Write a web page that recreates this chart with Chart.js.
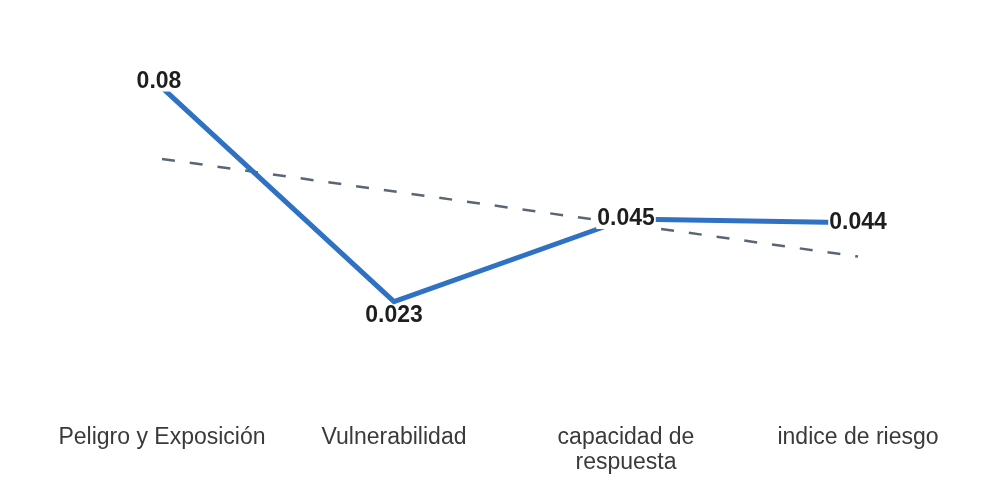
<!DOCTYPE html>
<html>
<head>
<meta charset="utf-8">
<script src="https://cdn.jsdelivr.net/npm/chart.js@4/dist/chart.umd.min.js"></script>
<style>
  html, body { margin: 0; padding: 0; background: #fff; }
  #wrap { width: 998px; height: 502px; position: relative; }
</style>
</head>
<body>
<div id="wrap"><canvas id="chart"></canvas></div>
<script>
// values
const categories = [
  'Peligro y Exposición',
  'Vulnerabilidad',
  ['capacidad de', 'respuesta'],
  'indice de riesgo'
];
const indexValues = [0.08, 0.023, 0.045, 0.044];
const valueLabels = ['0.08', '0.023', '0.045', '0.044'];
// linear trend line, only its two ends are drawn
const trendValues = [0.061, null, null, 0.035];

// point labels on a white box; the highest goes a bit up, the lowest a bit down
const pointLabels = {
  id: 'pointLabels',
  afterDatasetsDraw(chart) {
    const { ctx } = chart;
    const meta = chart.getDatasetMeta(0);
    const hi = Math.max(...indexValues);
    const lo = Math.min(...indexValues);
    ctx.save();
    ctx.font = 'bold 23px "Liberation Sans", Arial, sans-serif';
    ctx.textAlign = 'center';
    ctx.textBaseline = 'middle';
    meta.data.forEach((pt, i) => {
      const v = indexValues[i];
      let dx = 0, dy = 0;
      if (v === hi) { dx = -3; dy = -6; }
      else if (v === lo) { dy = 14; }
      const x = pt.x + dx, y = pt.y + dy;
      const w = ctx.measureText(valueLabels[i]).width;
      ctx.fillStyle = '#ffffff';
      ctx.fillRect(x - w / 2 - 1, y - 10, w + 2, 20);
      ctx.fillStyle = '#1e1e1e';
      ctx.fillText(valueLabels[i], x, y);
    });
    ctx.restore();
  }
};

const ctx = document.getElementById('chart').getContext('2d');
new Chart(ctx, {
  type: 'line',
  data: {
    labels: categories,
    datasets: [{
      label: 'Índice',
      data: indexValues,
      borderColor: '#2f72c4',
      borderWidth: 5,
      borderJoinStyle: 'round',
      pointRadius: 0,
      tension: 0,
      fill: false,
      order: 1
    }, {
      label: 'Tendencia',
      data: trendValues,
      spanGaps: true,
      borderColor: '#5a6674',
      borderWidth: 2.5,
      borderDash: [13, 15],
      pointRadius: 0,
      fill: false,
      order: 2
    }]
  },
  options: {
    responsive: true,
    maintainAspectRatio: false,
    animation: false,
    layout: { padding: { left: 46, right: 24, top: 50, bottom: 0 } },
    scales: {
      x: {
        offset: true,
        grid: { display: false, drawTicks: false },
        border: { display: false },
        afterFit: (scale) => { scale.height = 114; },
        ticks: {
          color: '#3a3a3a',
          padding: 37,
          maxRotation: 0,
          autoSkip: false,
          font: { family: '"Liberation Sans", Arial, sans-serif', size: 23, lineHeight: 1.1 }
        }
      },
      y: {
        display: false,
        min: 0,
        max: 0.09
      }
    },
    plugins: {
      legend: { display: false },
      tooltip: { enabled: false }
    }
  },
  plugins: [pointLabels]
});
</script>
</body>
</html>
